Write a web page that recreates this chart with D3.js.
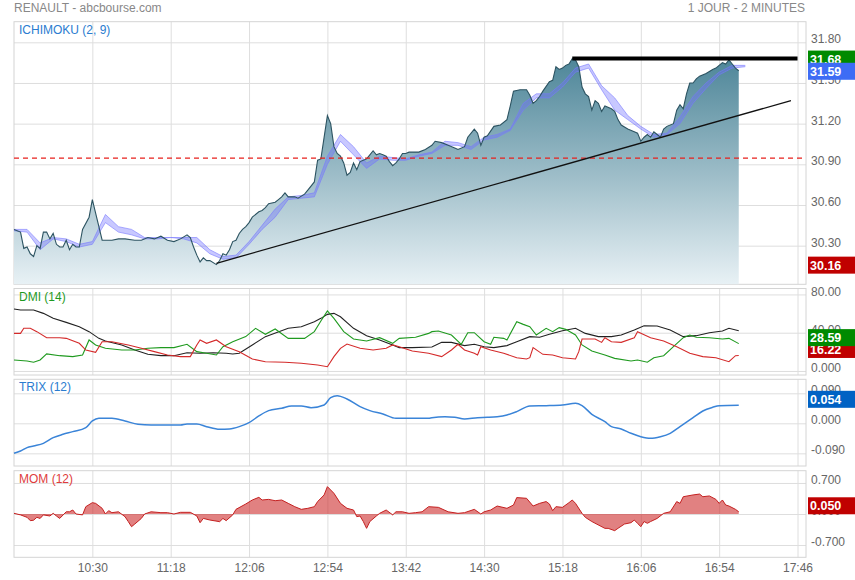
<!DOCTYPE html>
<meta charset="utf-8">
<style>
  body { margin: 0; background: #fff; }
  text { font-family: "Liberation Sans", Arial, sans-serif; }
</style>
<script src="https://cdn.jsdelivr.net/npm/d3@7"></script>
<svg id="chart" width="855" height="580"></svg>
<script>

// ---- data (bar index = 2 minute bars, value) ----
const tickBars = [24, 48, 72, 96, 120, 144, 168, 192, 216, 240];
const tickLabels = ["10:30", "11:18", "12:06", "12:54", "13:42", "14:30", "15:18", "16:06", "16:54", "17:46"];

const price = [[0,30.42],[2,30.40],[3,30.28],[4,30.29],[5,30.24],[6,30.22],[7,30.30],[8,30.28],[9,30.40],[10,30.40],[11,30.35],[12,30.39],[13,30.31],[14,30.29],[15,30.29],[16,30.34],[17,30.27],[18,30.31],[19,30.29],[20,30.29],[21,30.42],[23,30.51],[24,30.64],[25,30.54],[26,30.44],[27,30.34],[28,30.34],[30,30.34],[32,30.35],[34,30.35],[37,30.34],[39,30.34],[41,30.36],[43,30.35],[45,30.37],[47,30.34],[49,30.33],[51,30.35],[53,30.38],[54,30.36],[55,30.29],[56,30.23],[57,30.18],[58,30.21],[59,30.19],[60,30.19],[62,30.16],[63,30.19],[64,30.24],[65,30.23],[66,30.27],[67,30.33],[68,30.34],[69,30.39],[70,30.42],[71,30.44],[72,30.47],[73,30.51],[75,30.55],[76,30.56],[77,30.58],[78,30.61],[80,30.62],[81,30.64],[82,30.66],[83,30.69],[84,30.66],[86,30.66],[87,30.65],[89,30.68],[90,30.71],[92,30.77],[93,30.93],[94,30.94],[95,31.10],[96,31.26],[97,31.20],[98,31.03],[99,30.98],[100,30.96],[101,30.91],[102,30.82],[103,30.84],[104,30.91],[105,30.86],[106,30.92],[107,30.93],[108,30.94],[109,30.97],[110,31.00],[111,30.97],[112,30.98],[113,30.97],[114,30.96],[115,30.92],[116,30.89],[117,30.91],[118,30.94],[119,30.98],[120,30.98],[121,30.99],[123,30.99],[124,30.99],[126,31.01],[128,31.04],[129,31.07],[131,31.06],[133,31.04],[135,31.02],[136,31.01],[138,31.03],[139,31.10],[141,31.16],[142,31.13],[143,31.04],[144,31.10],[145,31.11],[147,31.18],[149,31.19],[151,31.23],[152,31.33],[153,31.44],[155,31.45],[157,31.45],[158,31.41],[159,31.35],[160,31.37],[161,31.40],[162,31.44],[164,31.51],[165,31.52],[166,31.62],[167,31.60],[168,31.61],[169,31.63],[170,31.64],[171,31.68],[172,31.67],[173,31.62],[174,31.47],[175,31.42],[176,31.40],[177,31.30],[178,31.37],[179,31.35],[180,31.29],[181,31.33],[183,31.31],[184,31.29],[185,31.23],[186,31.19],[188,31.16],[190,31.14],[191,31.13],[192,31.07],[193,31.10],[194,31.12],[195,31.10],[196,31.14],[197,31.12],[198,31.10],[199,31.16],[200,31.18],[202,31.20],[203,31.30],[204,31.34],[205,31.31],[206,31.42],[207,31.50],[208,31.50],[209,31.53],[210,31.55],[212,31.57],[214,31.60],[215,31.61],[216,31.63],[217,31.65],[218,31.64],[219,31.67],[220,31.64],[221,31.61],[222,31.59]];

// ichimoku: bar, line A, line B
const ichimoku = [[0,30.42,30.41],[4,30.42,30.40],[8,30.32,30.27],[12,30.36,30.35],[16,30.35,30.33],[20,30.31,30.29],[24,30.33,30.31],[28,30.53,30.47],[32,30.44,30.40],[36,30.42,30.38],[40,30.36,30.35],[44,30.36,30.35],[48,30.36,30.36],[52,30.36,30.35],[56,30.36,30.32],[60,30.27,30.24],[64,30.22,30.20],[68,30.23,30.21],[72,30.33,30.31],[76,30.45,30.42],[80,30.57,30.51],[84,30.66,30.64],[88,30.67,30.65],[92,30.69,30.66],[96,30.96,30.90],[100,31.12,31.07],[104,31.03,30.97],[108,30.91,30.87],[112,30.96,30.94],[116,30.95,30.93],[120,30.94,30.93],[124,30.97,30.96],[128,30.99,30.98],[132,31.07,31.04],[136,31.06,31.04],[140,31.03,31.01],[144,31.10,31.08],[148,31.12,31.10],[152,31.16,31.15],[156,31.35,31.30],[160,31.42,31.39],[164,31.42,31.39],[168,31.50,31.47],[172,31.61,31.58],[176,31.64,31.61],[180,31.48,31.45],[184,31.39,31.30],[188,31.26,31.23],[192,31.18,31.16],[196,31.12,31.10],[200,31.13,31.12],[204,31.25,31.20],[208,31.40,31.35],[212,31.50,31.46],[216,31.58,31.56],[220,31.63,31.61],[224,31.63,31.62]];

const adx = [[0,64.8],[2,63.7],[6,63.7],[9,60.2],[12,55.0],[16,50.8],[20,46.3],[23,41.1],[26,34.1],[28,31.3],[33,27.2],[37,21.9],[41,17.4],[45,16.0],[49,16.0],[53,19.1],[57,18.5],[61,19.1],[65,18.5],[67,17.8],[69,18.5],[73,27.2],[77,35.9],[84,44.6],[88,46.3],[92,51.5],[94,55.0],[96,59.2],[98,60.2],[100,56.7],[104,44.6],[108,36.9],[112,32.4],[116,27.2],[118,24.4],[122,24.4],[128,25.0],[131,29.9],[134,29.9],[138,26.5],[141,27.9],[144,25.4],[147,24.4],[151,26.5],[154,30.6],[158,35.9],[161,35.2],[164,38.3],[168,42.1],[172,44.6],[175,39.3],[179,35.9],[183,35.9],[186,37.6],[190,42.8],[193,47.3],[197,47.0],[201,42.8],[205,35.9],[209,36.9],[213,40.0],[217,41.8],[219,44.6],[222,42.1]];

const diPlus = [[0,11.5],[4,10.4],[6,9.1],[8,11.5],[10,17.8],[14,16.0],[18,15.0],[21,16.7],[23,32.4],[25,27.2],[28,23.7],[33,21.9],[37,21.9],[41,23.7],[45,24.4],[49,24.4],[53,27.9],[56,20.2],[59,18.5],[62,16.7],[64,25.4],[67,30.6],[71,35.9],[74,44.6],[77,38.3],[80,43.9],[84,34.1],[89,34.1],[92,41.1],[94,52.2],[96,62.7],[98,55.0],[101,41.1],[104,33.4],[108,31.3],[112,34.8],[116,28.9],[118,34.1],[123,35.2],[127,39.3],[128,41.1],[130,41.8],[134,37.6],[137,27.9],[139,40.0],[141,40.0],[144,30.6],[146,27.9],[147,35.2],[150,34.1],[151,32.4],[154,51.5],[156,48.7],[158,46.3],[160,37.6],[163,44.6],[165,41.1],[167,45.3],[169,43.5],[172,37.6],[174,27.2],[177,20.9],[181,16.7],[184,13.2],[189,10.4],[191,11.5],[194,9.1],[196,13.9],[199,16.0],[202,25.4],[205,34.8],[207,37.6],[209,35.2],[213,34.8],[217,33.4],[219,34.1],[222,28.6]];

const diMinus = [[0,39.3],[2,39.3],[3,44.6],[5,44.6],[7,41.1],[10,34.8],[14,34.8],[16,34.1],[20,28.9],[22,21.9],[25,19.5],[27,30.6],[30,30.6],[35,27.2],[39,23.7],[43,20.2],[47,16.7],[51,15.0],[54,15.0],[56,27.2],[57,32.4],[59,28.9],[62,32.4],[65,25.4],[69,20.2],[73,12.5],[77,9.7],[83,9.1],[88,8.0],[93,6.3],[96,4.5],[98,15.0],[100,23.7],[102,28.2],[106,23.7],[110,21.9],[114,23.7],[116,27.2],[118,25.4],[122,20.9],[127,18.5],[131,15.0],[134,21.9],[136,27.9],[138,21.9],[141,18.5],[142,16.7],[143,25.4],[146,21.9],[150,18.5],[154,13.9],[157,12.5],[158,13.9],[159,24.4],[162,17.4],[165,16.7],[168,13.9],[172,12.5],[173,20.2],[174,33.4],[178,33.4],[180,29.9],[181,34.8],[183,30.6],[186,29.9],[190,34.8],[191,41.1],[195,34.8],[199,31.3],[203,25.4],[207,18.5],[211,15.0],[215,13.9],[219,9.7],[221,16.0],[222,16.2]];

const trix = [[0,-0.090],[2,-0.083],[4,-0.073],[6,-0.068],[9,-0.060],[12,-0.043],[15,-0.033],[18,-0.025],[22,-0.013],[24,0.007],[26,0.015],[30,0.015],[34,0.007],[38,-0.003],[42,-0.005],[51,-0.005],[53,-0.002],[56,-0.002],[59,-0.010],[63,-0.018],[66,-0.017],[69,-0.010],[72,0.002],[75,0.022],[78,0.038],[82,0.045],[85,0.052],[88,0.052],[91,0.047],[95,0.055],[97,0.077],[99,0.083],[102,0.073],[106,0.050],[109,0.038],[113,0.028],[117,0.015],[121,0.015],[127,0.015],[128,0.017],[132,0.020],[135,0.018],[138,0.013],[142,0.017],[145,0.018],[148,0.020],[151,0.025],[154,0.035],[158,0.052],[163,0.053],[168,0.055],[172,0.060],[174,0.053],[177,0.027],[181,0.005],[183,-0.010],[186,-0.017],[189,-0.030],[192,-0.040],[195,-0.045],[198,-0.040],[201,-0.030],[204,-0.010],[208,0.017],[211,0.037],[214,0.048],[216,0.053],[222,0.054]];

const mom = [[0,0.015],[2,-0.02],[4,-0.075],[5,-0.15],[6,-0.14],[7,-0.075],[8,-0.10],[9,-0.02],[11,-0.045],[12,0.015],[13,-0.045],[14,-0.10],[16,0.05],[17,0.05],[18,0.09],[19,0],[21,-0.02],[22,0.165],[24,0.256],[25,0.24],[27,0.128],[28,0],[29,0.075],[30,0.03],[32,0.05],[34,-0.06],[35,-0.17],[36,-0.286],[37,-0.226],[39,-0.10],[40,0],[42,0.05],[45,0.03],[47,0.03],[49,0],[51,0.038],[54,0.038],[56,-0.045],[57,-0.196],[58,-0.10],[60,-0.136],[63,-0.173],[64,-0.10],[65,-0.15],[67,-0.02],[68,0.105],[71,0.226],[73,0.316],[75,0.376],[76,0.316],[78,0.33],[80,0.30],[82,0.316],[84,0.24],[86,0.165],[88,0.105],[90,0.128],[92,0.165],[93,0.28],[95,0.43],[96,0.617],[98,0.467],[100,0.24],[102,0.128],[104,0.09],[105,-0.06],[106,-0.045],[107,-0.17],[108,-0.324],[109,-0.17],[111,-0.045],[112,0.015],[114,0.09],[116,-0.02],[117,0.05],[119,0.05],[121,0.015],[123,0.03],[125,0.05],[127,0.165],[130,0.15],[133,0.05],[136,0.015],[138,0.03],[141,0.105],[143,0],[144,0.05],[146,0.09],[148,0.18],[151,0.128],[153,0.203],[154,0.37],[157,0.354],[159,0.18],[161,0.24],[163,0.28],[164,0.226],[165,0.075],[166,0.165],[168,0.15],[170,0.256],[171,0.316],[172,0.24],[174,0.015],[175,-0.075],[177,-0.17],[181,-0.324],[182,-0.324],[184,-0.376],[185,-0.324],[187,-0.226],[189,-0.196],[190,-0.136],[191,-0.21],[192,-0.286],[193,-0.17],[194,-0.21],[195,-0.17],[197,-0.10],[199,0.015],[201,0.05],[203,0.28],[204,0.24],[205,0.39],[208,0.43],[210,0.45],[211,0.39],[213,0.407],[215,0.33],[216,0.24],[217,0.316],[218,0.203],[219,0.18],[221,0.105],[222,0.05]];

// reference lines drawn on the chart
const prevClose = 30.945;
const resistance = [[171, 31.68], [240, 31.68]];
const trendLine = [[62, 30.17], [238, 31.37]];

// axis ticks
const priceTicks = [31.80, 31.50, 31.20, 30.90, 30.60, 30.30];
const dmiTicks = [80, 40, 0], dmiTickLabels = ["80.00", "40.00", "0.000"];
const trixTicks = [0.09, 0, -0.09], trixTickLabels = ["0.090", "0.000", "-0.090"];
const momTicks = [0.7, 0, -0.7], momTickLabels = ["0.700", "0.000", "-0.700"];

// value boxes on the right
const priceMarks = [30.16, 31.68, 31.59];
const dmiMarks = [16.22, 28.59];
const trixMarks = [0.054];
const momMarks = [0.050];

// ---- layout ----
const svg = d3.select("#chart");
const left = 14, right = 806;
const x = d3.scaleLinear().domain([0, 242.6]).range([left, right]);

function makePanel(top, bottom, domain) {
    return {top: top, bottom: bottom, y: d3.scaleLinear().domain(domain).range([bottom, top])};
}
const pMain = makePanel(21.7, 284.3, [30.015, 31.952]);
const pDmi = makePanel(288.5, 375, [-4.2, 86.2]);
const pTrix = makePanel(379.3, 466, [-0.128, 0.132]);
const pMom = makePanel(470.7, 557.3, [-0.977, 0.977]);

function drawFrame(p, ticks, labels) {
    const g = svg.append("g");
    // horizontal grid
    g.append("g")
        .attr("transform", "translate(" + left + ",0)")
        .call(d3.axisRight(p.y).tickValues(ticks).tickSize(right - left).tickFormat(""))
        .call(a => a.select(".domain").remove())
        .selectAll("line").attr("stroke", "#dedede");
    // vertical grid
    g.append("g")
        .attr("transform", "translate(0," + p.bottom + ")")
        .call(d3.axisBottom(x).tickValues(tickBars).tickSize(-(p.bottom - p.top)).tickFormat(""))
        .call(a => a.select(".domain").remove())
        .selectAll("line").attr("stroke", "#dedede");
    g.append("rect")
        .attr("x", left).attr("y", p.top)
        .attr("width", right - left).attr("height", p.bottom - p.top)
        .attr("fill", "none").attr("stroke", "#d4d4d4");
    // tick labels
    const ax = g.append("g")
        .attr("transform", "translate(" + right + ",0)")
        .call(d3.axisRight(p.y).tickValues(ticks).tickSize(0).tickPadding(5)
            .tickFormat((d, i) => labels[i]));
    ax.select(".domain").remove();
    ax.selectAll("text")
        .attr("dy", "0.05em")
        .attr("fill", "#666")
        .attr("font-size", "12px")
        .attr("font-family", "Liberation Sans, Arial, sans-serif");
    return g;
}

function panelTitle(p, label, color) {
    svg.append("text")
        .attr("x", left + 5).attr("y", p.top + 12)
        .attr("fill", color).attr("font-size", "12px")
        .text(label);
}

function valueBoxes(p, values, colors, fmt, offset) {
    values.forEach(function(v, i) {
        const cy = p.y(v) + offset;
        svg.append("rect")
            .attr("x", 808).attr("y", cy - 8.5)
            .attr("width", 47).attr("height", 17)
            .attr("fill", colors[i]);
        svg.append("text")
            .attr("x", 810).attr("y", cy + 4.5)
            .attr("fill", "#fff").attr("font-size", "12.5px").attr("font-weight", "bold")
            .text(fmt(v));
    });
}

const fmt2 = d3.format(".2f"), fmt3 = d3.format(".3f");

// titles
svg.append("text").attr("x", 14).attr("y", 12)
    .attr("fill", "#888").attr("font-size", "12px")
    .text("RENAULT - abcbourse.com");
svg.append("text").attr("x", 805).attr("y", 12).attr("text-anchor", "end")
    .attr("fill", "#888").attr("font-size", "12px")
    .text("1 JOUR - 2 MINUTES");

// ---- main panel ----
drawFrame(pMain, priceTicks, priceTicks.map(fmt2));

const defs = svg.append("defs");
const grad = defs.append("linearGradient")
    .attr("id", "areaGrad").attr("gradientUnits", "userSpaceOnUse")
    .attr("x1", 0).attr("x2", 0).attr("y1", 55).attr("y2", pMain.bottom);
grad.append("stop").attr("offset", "0%").attr("stop-color", "#4b8497");
grad.append("stop").attr("offset", "100%").attr("stop-color", "#e8f1f5");

svg.append("path")
    .datum(price)
    .attr("fill", "url(#areaGrad)")
    .attr("d", d3.area().x(d => x(d[0])).y0(pMain.bottom).y1(d => pMain.y(d[1])));

svg.append("path")
    .datum(ichimoku)
    .attr("fill", "rgba(110,110,255,0.38)")
    .attr("d", d3.area().x(d => x(d[0])).y0(d => pMain.y(d[2])).y1(d => pMain.y(d[1])));
[1, 2].forEach(function(k) {
    svg.append("path")
        .datum(ichimoku)
        .attr("fill", "none")
        .attr("stroke", "rgba(120,120,255,0.6)")
        .attr("stroke-width", 1)
        .attr("d", d3.line().x(d => x(d[0])).y(d => pMain.y(d[k])));
});

svg.append("path")
    .datum(price)
    .attr("fill", "none")
    .attr("stroke", "#2c5361")
    .attr("stroke-width", 1.1)
    .attr("d", d3.line().x(d => x(d[0])).y(d => pMain.y(d[1])));

svg.append("line")
    .attr("x1", left).attr("x2", right)
    .attr("y1", pMain.y(prevClose)).attr("y2", pMain.y(prevClose))
    .attr("stroke", "#e8201c").attr("stroke-width", 1.2)
    .attr("stroke-dasharray", "5,4");

svg.append("path")
    .datum(resistance)
    .attr("fill", "none").attr("stroke", "#000").attr("stroke-width", 4)
    .attr("d", d3.line().x(d => x(d[0])).y(d => pMain.y(d[1])));

svg.append("path")
    .datum(trendLine)
    .attr("fill", "none").attr("stroke", "#111").attr("stroke-width", 1.3)
    .attr("d", d3.line().x(d => x(d[0])).y(d => pMain.y(d[1])));

panelTitle(pMain, "ICHIMOKU (2, 9)", "#2a7cd0");
valueBoxes(pMain, priceMarks, ["#c00000", "#008a00", "#3d6cf5"], fmt2, 0.5);

// ---- DMI ----
drawFrame(pDmi, dmiTicks, dmiTickLabels);
[[adx, "#222"], [diPlus, "#1f9a1f"], [diMinus, "#d42a2a"]].forEach(function(s) {
    svg.append("path")
        .datum(s[0])
        .attr("fill", "none").attr("stroke", s[1]).attr("stroke-width", 1.1)
        .attr("d", d3.line().x(d => x(d[0])).y(d => pDmi.y(d[1])));
});
panelTitle(pDmi, "DMI (14)", "#1f9a1f");
valueBoxes(pDmi, dmiMarks, ["#c00000", "#008a00"], fmt2, -6);

// ---- TRIX ----
drawFrame(pTrix, trixTicks, trixTickLabels);
svg.append("path")
    .datum(trix)
    .attr("fill", "none").attr("stroke", "#3a84d8").attr("stroke-width", 1.5)
    .attr("d", d3.line().curve(d3.curveMonotoneX).x(d => x(d[0])).y(d => pTrix.y(d[1])));
panelTitle(pTrix, "TRIX (12)", "#2a7cd0");
valueBoxes(pTrix, trixMarks, ["#0062c4"], fmt3, -6);

// ---- MOM ----
drawFrame(pMom, momTicks, momTickLabels);
svg.append("path")
    .datum(mom)
    .attr("fill", "rgba(205,45,45,0.6)")
    .attr("d", d3.area().x(d => x(d[0])).y0(pMom.y(0)).y1(d => pMom.y(d[1])));
svg.append("path")
    .datum(mom)
    .attr("fill", "none").attr("stroke", "#c42020").attr("stroke-width", 1)
    .attr("d", d3.line().x(d => x(d[0])).y(d => pMom.y(d[1])));
panelTitle(pMom, "MOM (12)", "#e03c3c");
valueBoxes(pMom, momMarks, ["#c00000"], fmt3, -6);

// ---- x axis labels ----
const xa = svg.append("g")
    .attr("transform", "translate(0," + pMom.bottom + ")")
    .call(d3.axisBottom(x).tickValues(tickBars).tickSize(0).tickPadding(6)
        .tickFormat((d, i) => tickLabels[i]));
xa.select(".domain").remove();
xa.selectAll("text")
    .attr("fill", "#666")
    .attr("font-size", "12px")
    .attr("font-family", "Liberation Sans, Arial, sans-serif");

</script>
